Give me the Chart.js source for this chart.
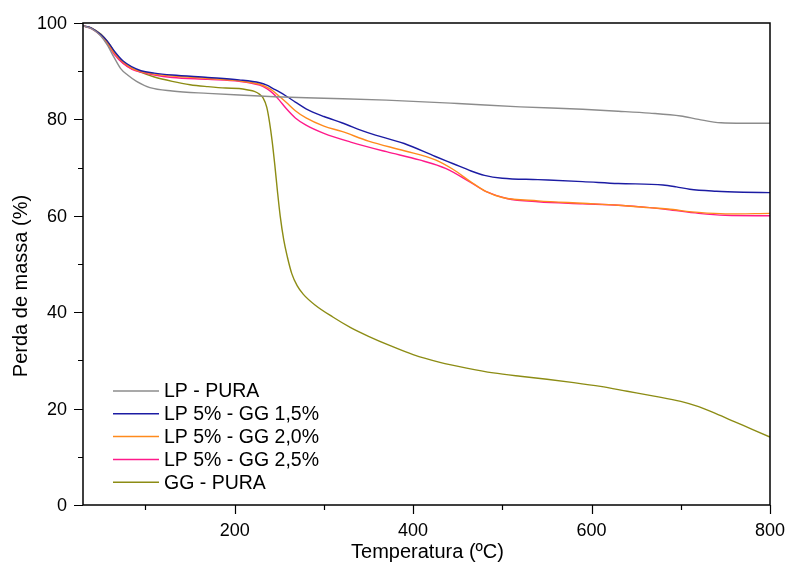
<!DOCTYPE html>
<html>
<head>
<meta charset="utf-8">
<script src="https://cdn.jsdelivr.net/npm/chart.js@4/dist/chart.umd.min.js"></script>
<style>
  html, body { margin: 0; padding: 0; background: #ffffff; }
  #wrap { width: 789px; height: 570px; }
</style>
</head>
<body>
<div id="wrap"><canvas id="tga" width="789" height="570"></canvas></div>
<script>
// Thermogravimetric curves: mass remaining (%) versus temperature (ºC)
const seriesNames = ['LP - PURA', 'LP 5% - GG 1,5%', 'LP 5% - GG 2,0%', 'LP 5% - GG 2,5%', 'GG - PURA'];
const seriesColors = ['#8c8c8c', '#1c1ca3', '#ff8a1c', '#ff1a8a', '#8c8c14'];

const tempLP   = [30, 40, 50, 57, 65, 72, 80, 90, 105, 130, 170, 205, 245, 300, 370, 450, 520, 590, 630, 665, 700, 720, 745, 770, 800];
const massLP   = [99.4, 98.8, 97.3, 95.5, 92.8, 90.6, 89.2, 87.9, 86.6, 85.9, 85.4, 85.05, 84.7, 84.4, 84.0, 83.3, 82.6, 82.1, 81.7, 81.3, 80.7, 80.0, 79.3, 79.2, 79.2];

const tempGG15 = [30, 40, 50, 57, 65, 75, 85, 95, 110, 130, 170, 205, 228, 236, 243, 250, 258, 268, 280, 300, 320, 350, 390, 425, 445, 465, 480, 500, 540, 590, 630, 680, 695, 710, 740, 770, 800];
const massGG15 = [99.4, 98.9, 97.6, 96.3, 94.2, 92.1, 90.9, 90.1, 89.6, 89.2, 88.7, 88.2, 87.6, 87.1, 86.4, 85.7, 84.8, 83.6, 82.2, 80.6, 79.3, 77.2, 75.0, 72.3, 70.8, 69.3, 68.4, 67.8, 67.5, 67.1, 66.7, 66.4, 66.0, 65.5, 65.1, 64.9, 64.8];

const tempGG20 = [30, 40, 50, 57, 65, 75, 85, 95, 110, 130, 170, 205, 228, 236, 243, 250, 258, 268, 280, 300, 320, 350, 390, 425, 445, 465, 482, 500, 540, 590, 630, 665, 685, 720, 750, 800];
const massGG20 = [99.4, 98.9, 97.5, 96.0, 93.8, 91.9, 90.6, 89.9, 89.4, 89.0, 88.5, 88.0, 87.3, 86.7, 85.9, 84.8, 83.5, 81.8, 80.3, 78.6, 77.5, 75.5, 73.5, 71.6, 69.6, 67.0, 65.0, 63.8, 63.1, 62.6, 62.2, 61.7, 61.4, 60.7, 60.4, 60.5];

const tempGG25 = [30, 40, 50, 57, 65, 75, 85, 95, 110, 130, 170, 205, 228, 236, 243, 250, 258, 268, 280, 300, 330, 370, 407, 437, 463, 482, 505, 540, 590, 630, 665, 685, 720, 750, 800];
const massGG25 = [99.4, 98.8, 97.4, 95.8, 93.5, 91.6, 90.4, 89.8, 89.2, 88.7, 88.3, 87.9, 87.1, 86.4, 85.4, 84.0, 82.2, 80.3, 78.8, 77.1, 75.3, 73.3, 71.6, 69.8, 67.1, 65.0, 63.6, 62.9, 62.5, 62.2, 61.7, 61.3, 60.5, 60.1, 60.0];

const tempGG   = [30, 40, 50, 60, 70, 80, 93, 110, 130, 150, 170, 190, 205, 215, 222, 228, 232, 236, 239, 242, 245, 248, 251, 255, 259, 264, 270, 277, 290, 310, 330, 350, 375, 400, 430, 460, 490, 520, 550, 580, 610, 640, 670, 700, 720, 740, 760, 780, 800];
const massGG   = [99.4, 98.9, 97.7, 95.5, 92.6, 91.0, 89.9, 88.8, 87.9, 87.2, 86.8, 86.5, 86.4, 86.1, 85.8, 85.2, 84.4, 82.5, 79.5, 75.5, 70.5, 65.0, 60.0, 55.0, 51.5, 48.0, 45.5, 43.7, 41.5, 39.0, 36.8, 35.0, 33.0, 31.2, 29.6, 28.4, 27.4, 26.7, 26.1, 25.4, 24.6, 23.6, 22.6, 21.5, 20.4, 18.9, 17.3, 15.7, 14.1];

const xTickValues = [100, 200, 300, 400, 500, 600, 700, 800];
const yTickValues = [0, 10, 20, 30, 40, 50, 60, 70, 80, 90, 100];
const xTitle = 'Temperatura (ºC)';
const yTitle = 'Perda de massa (%)';

const FONT = "Arial, 'Liberation Sans', sans-serif";

function toPoints(xs, ys) {
  return xs.map((x, i) => ({ x: x, y: ys[i] }));
}

const seriesData = [
  toPoints(tempLP, massLP),
  toPoints(tempGG15, massGG15),
  toPoints(tempGG20, massGG20),
  toPoints(tempGG25, massGG25),
  toPoints(tempGG, massGG)
];

const datasets = seriesNames.map((name, i) => ({
  label: name,
  data: seriesData[i],
  borderColor: seriesColors[i],
  backgroundColor: seriesColors[i],
  borderWidth: 1.4,
  pointRadius: 0,
  fill: false,
  cubicInterpolationMode: 'monotone'
}));

// Frame, tick marks and labels, axis titles and the inset legend
const decorations = {
  id: 'decorations',
  afterDraw(chart) {
    const ctx = chart.ctx;
    const area = chart.chartArea;
    const xs = chart.scales.x;
    const ys = chart.scales.y;
    ctx.save();

    // box around the plotting area
    ctx.strokeStyle = '#000';
    ctx.lineWidth = 1.5;
    ctx.strokeRect(area.left, area.top, area.right - area.left, area.bottom - area.top);

    // outward tick marks, long at labelled values
    ctx.lineWidth = 1.2;
    ctx.beginPath();
    xTickValues.forEach(v => {
      const px = Math.round(xs.getPixelForValue(v)) + 0.5;
      const len = (v % 200 === 0) ? 9 : 5;
      ctx.moveTo(px, area.bottom);
      ctx.lineTo(px, area.bottom + len);
    });
    yTickValues.forEach(v => {
      const py = Math.round(ys.getPixelForValue(v)) + 0.5;
      const len = (v % 20 === 0) ? 9 : 5;
      ctx.moveTo(area.left, py);
      ctx.lineTo(area.left - len, py);
    });
    ctx.stroke();

    // tick labels
    ctx.fillStyle = '#000';
    ctx.font = '18px ' + FONT;
    ctx.textBaseline = 'middle';
    ctx.textAlign = 'center';
    xTickValues.filter(v => v % 200 === 0).forEach(v => {
      ctx.fillText(String(v), xs.getPixelForValue(v), area.bottom + 26);
    });
    ctx.textAlign = 'right';
    yTickValues.filter(v => v % 20 === 0).forEach(v => {
      ctx.fillText(String(v), area.left - 16, ys.getPixelForValue(v) + 1);
    });

    // axis titles
    ctx.font = '20px ' + FONT;
    ctx.textAlign = 'center';
    ctx.textBaseline = 'middle';
    ctx.fillText(xTitle, (area.left + area.right) / 2 + 1, 552);
    ctx.save();
    ctx.translate(21, 286);
    ctx.rotate(-Math.PI / 2);
    ctx.fillText(yTitle, 0, 0);
    ctx.restore();

    // legend inside the lower-left corner
    ctx.font = '19.5px ' + FONT;
    ctx.textAlign = 'left';
    ctx.textBaseline = 'middle';
    chart.data.datasets.forEach((ds, i) => {
      const y = 391 + i * 22.8;
      ctx.strokeStyle = ds.borderColor;
      ctx.lineWidth = 1.5;
      ctx.beginPath();
      ctx.moveTo(113, y);
      ctx.lineTo(159, y);
      ctx.stroke();
      ctx.fillStyle = '#000';
      ctx.fillText(ds.label, 164, y + 1);
    });

    ctx.restore();
  }
};

new Chart(document.getElementById('tga'), {
  type: 'line',
  data: { datasets: datasets },
  options: {
    responsive: false,
    animation: false,
    layout: { padding: { top: 23, right: 19, left: 0, bottom: 0 } },
    plugins: {
      legend: { display: false },
      tooltip: { enabled: false }
    },
    scales: {
      x: {
        type: 'linear',
        min: 30,
        max: 800,
        afterBuildTicks(scale) {
          scale.ticks = xTickValues.map(v => ({ value: v }));
        },
        afterFit(scale) { scale.height = 65; },
        grid: { display: false, drawTicks: false },
        border: { display: false },
        ticks: { display: false }
      },
      y: {
        type: 'linear',
        min: 0,
        max: 100,
        afterBuildTicks(scale) {
          scale.ticks = yTickValues.map(v => ({ value: v }));
        },
        afterFit(scale) { scale.width = 83; },
        grid: { display: false, drawTicks: false },
        border: { display: false },
        ticks: { display: false }
      }
    }
  },
  plugins: [decorations]
});
</script>
</body>
</html>
